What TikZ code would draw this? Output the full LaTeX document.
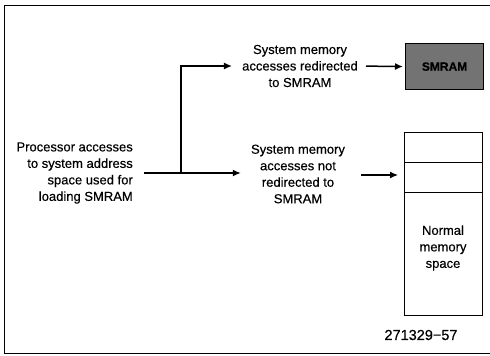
\documentclass[tikz,border=0pt]{standalone}
\usepackage{fontspec}
\setmainfont{Liberation Sans}[FakeBold=0.4]
\usetikzlibrary{arrows.meta}
\begin{document}
\begin{tikzpicture}[x=1pt,y=-1pt,
  txt/.style={inner sep=0pt,align=center,font=\fontsize{13}{16.5}\selectfont},
  conn/.style={line width=1.5pt,-{Latex[length=8pt,width=7pt]}},
  box/.style={draw,line width=1.2pt,minimum width=78pt,inner sep=0pt}]
\useasboundingbox (0,0) rectangle (490,356);
\draw[line width=0.9pt] (492,5) -- (4,5) -- (4,353) -- (492,353);
\node[txt,align=right,anchor=east] (proc) at (133,173) {Processor accesses\\to system address\\space used for\\loading SMRAM};
\node[txt] (t1) at (300,66) {System memory\\accesses redirected\\to SMRAM};
\node[txt] (t2) at (298,174) {System memory\\accesses not\\redirected to\\SMRAM};
\node[box,minimum height=46pt,fill=black!55,anchor=north west,font=\bfseries\fontsize{12}{14}\selectfont] (smram) at (405,43) {SMRAM};
\node[box,minimum height=30pt,anchor=north west] (m1) at (404,132) {};
\node[box,minimum height=30pt,anchor=north west] (m2) at (404,162) {};
\node[box,minimum height=123pt,anchor=north west] (m3) at (404,192) {};
\node[txt] (normal) at (443,248) {Normal\\memory\\space};
\coordinate (split) at (181,173);
\node[font=\fontsize{14.5}{16}\selectfont,inner sep=0pt] (fig) at (421,335) {271329{\textminus}57};
\draw[line width=1.5pt] ([xshift=11pt]proc.east |- split) -- (split);
\draw[conn,shorten >=10pt] (split) -- (split -| t2.west);
\draw[conn,shorten >=10pt] (split) |- (t1.west);
\draw[conn,shorten <=8pt,shorten >=2pt] (t1.east) -- (smram.west);
\draw[conn,line width=1.2pt,shorten <=16pt,shorten >=6pt] ([yshift=-1pt]t2.east) -- ([yshift=-1pt]t2.east -| m2.west);
\end{tikzpicture}
\end{document}
